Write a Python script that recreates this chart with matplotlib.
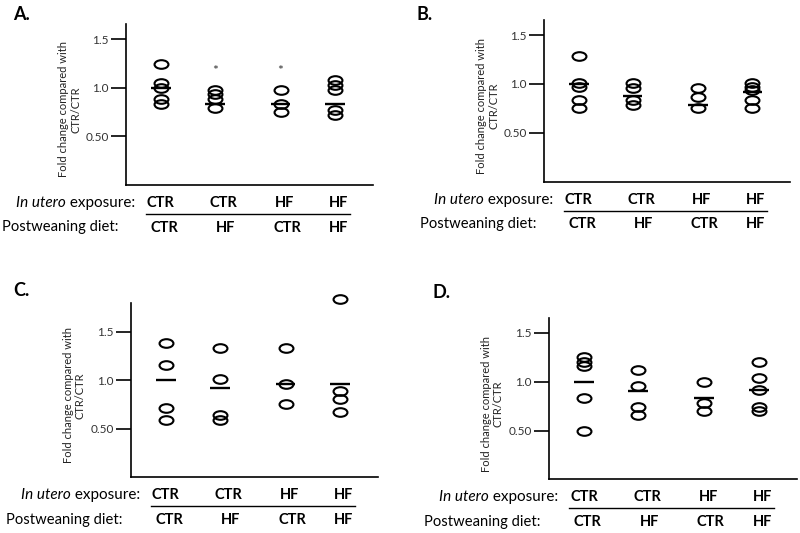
import matplotlib
matplotlib.use("Agg")
import matplotlib.pyplot as plt
from matplotlib.path import Path
from matplotlib.transforms import Affine2D

plt.rcParams['font.family'] = ['Lato', 'DejaVu Sans']

# group order on the x axis
in_utero = ['CTR', 'CTR', 'HF', 'HF']
postweaning = ['CTR', 'HF', 'CTR', 'HF']
yticks = [0.5, 1.0, 1.5]
ytick_labels = ['0.50', '1.0', '1.5']

# fold change values
A_vals = [[1.24, 1.05, 1.0, 0.88, 0.835], [0.972, 0.932, 0.888, 0.796],
          [0.972, 0.835, 0.75], [1.083, 1.03, 0.98, 0.77, 0.72]]
A_means = [1.0, 0.835, 0.835, 0.835]
A_stars = [None, 1.175, 1.175, None]

B_vals = [[1.29, 1.013, 0.972, 0.836, 0.75], [1.013, 0.962, 0.836, 0.79],
          [0.962, 0.87, 0.75], [1.013, 0.972, 0.94, 0.836, 0.75]]
B_means = [1.0, 0.877, 0.79, 0.92]

C_vals = [[1.382, 1.16, 0.718, 0.588], [1.33, 1.007, 0.64, 0.588],
          [1.33, 0.963, 0.752], [1.832, 0.888, 0.803, 0.673]]
C_means = [1.0, 0.92, 0.963, 0.956]

D_vals = [[1.25, 1.205, 1.16, 0.83, 0.497], [1.12, 0.956, 0.743, 0.658],
          [0.994, 0.784, 0.7], [1.205, 1.035, 0.915, 0.743, 0.7]]
D_means = [0.994, 0.907, 0.83, 0.915]

W, H = 800, 533
xpos = [1, 1.93, 3.06, 4.0]
lab1_x = [1.0, 2.08, 3.13, 4.06]
lab2_x = [1.06, 2.12, 3.17, 4.06]

ellipse = Path.unit_circle().transformed(Affine2D().scale(1, 0.62))

fig = plt.figure(figsize=(W / 100, H / 100), dpi=100)


def panel(letter, box, ytop, vals, means, letter_xy, stars=None):
    left, right, top, bottom = box
    ax = fig.add_axes([left / W, 1 - bottom / H, (right - left) / W, (bottom - top) / H])
    h = bottom - top
    for x, v, m in zip(xpos, vals, means):
        ax.plot([x] * len(v), v, linestyle='none', marker=ellipse, markersize=10,
                markerfacecolor='none', markeredgecolor='black', markeredgewidth=1.5,
                clip_on=False)
        ax.plot([x - 0.17, x + 0.17], [m, m], color='black', lw=1.7, solid_capstyle='butt')
    if stars:
        for x, s in zip(xpos, stars):
            if s is not None:
                ax.text(x, s, '*', ha='center', va='center', fontsize=10, color='#333333')
    ax.set_xlim(0.4, 4.65)
    ax.set_ylim(0, ytop)
    for s in ['top', 'right']:
        ax.spines[s].set_visible(False)
    for s in ['left', 'bottom']:
        ax.spines[s].set_linewidth(1.2)
    ax.set_xticks([])
    ax.set_yticks(yticks)
    ax.set_yticklabels(ytick_labels, fontsize=8.5, color='#333333')
    ax.tick_params(axis='y', direction='out', length=11, width=1.2, pad=1.5)
    ax.set_ylabel('Fold change compared with\nCTR/CTR', fontsize=8, color='#222222',
                  multialignment='center', linespacing=1.1)
    ax.yaxis.set_label_coords(-45 / (right - left), 0.47)

    # group labels under the axis
    y1, yl, y2 = -18 / h, -29 / h, -42.5 / h
    tr = ax.get_xaxis_transform()
    for x, t in zip(lab1_x, in_utero):
        ax.text(x, y1, t, transform=tr, ha='center', va='center', fontsize=10.5,
                fontweight='bold', clip_on=False)
    for x, t in zip(lab2_x, postweaning):
        ax.text(x, y2, t, transform=tr, ha='center', va='center', fontsize=10.5,
                fontweight='bold', clip_on=False)
    ax.plot([0.74, 4.25], [yl, yl], transform=tr, color='black', lw=1.0, clip_on=False)
    wx = 9 / (right - left)
    t_exp = ax.text(wx, y1, ' exposure:', transform=ax.transAxes, ha='right', va='center',
                    fontsize=11, clip_on=False)
    ax.annotate('In utero', xy=(0, 0), xycoords=t_exp, ha='right', va='bottom',
                fontsize=11, style='italic', annotation_clip=False)
    ax.text(-8 / (right - left), y2, 'Postweaning diet:', transform=ax.transAxes,
            ha='right', va='center', fontsize=10.6, clip_on=False)

    fig.text(letter_xy[0] / W, 1 - letter_xy[1] / H, letter + '.', fontsize=13,
             fontweight='bold', ha='left', va='baseline')
    return ax


panel('A', (126, 373, 24, 185), 1.656, A_vals, A_means, (13, 20), A_stars)
panel('B', (544, 790, 20, 181.7), 1.655, B_vals, B_means, (417, 20))
panel('C', (131, 378, 303, 477.3), 1.794, C_vals, C_means, (13, 295.5))
panel('D', (549, 797, 318.3, 479.3), 1.65, D_vals, D_means, (432, 297.5))

fig.savefig('out.png', dpi=100)
